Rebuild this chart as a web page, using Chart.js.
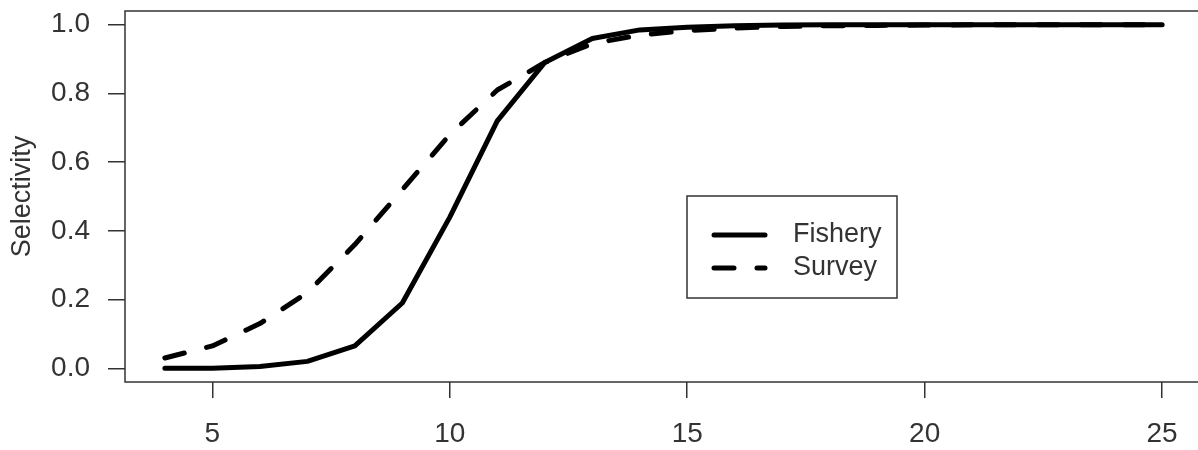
<!DOCTYPE html>
<html>
<head>
<meta charset="utf-8">
<script src="https://cdn.jsdelivr.net/npm/chart.js@4"></script>
<style>
  html, body { margin: 0; padding: 0; background: #fff; overflow: hidden; }
  canvas { display: block; }
</style>
</head>
<body>
<canvas id="selChart" width="1204" height="450"></canvas>
<script>

// lengths (x values)
var lengths = [4, 5, 6, 7, 8, 9, 10, 11, 12, 13, 14, 15, 16, 17, 18, 19, 20, 21, 22, 23, 24, 25];

// selectivity curves
var fishery = [0.0, 0.0, 0.005, 0.02, 0.065, 0.19, 0.44, 0.72, 0.89, 0.96, 0.985, 0.993, 0.997, 0.999, 1.0, 1.0, 1.0, 1.0, 1.0, 1.0, 1.0, 1.0];
var survey  = [0.03, 0.065, 0.13, 0.22, 0.36, 0.52, 0.68, 0.81, 0.89, 0.945, 0.97, 0.983, 0.99, 0.995, 0.997, 0.998, 0.999, 1.0, 1.0, 1.0, 1.0, 1.0];

var xTicks = [5, 10, 15, 20, 25];
var yTicks = [0, 0.2, 0.4, 0.6, 0.8, 1.0];

var ink = '#333333';
var fontFam = '"Liberation Sans", Arial, sans-serif';

function toPoints(xs, ys){
	var pts = [];
	for (var i = 0; i < xs.length; i++){ pts.push({x: xs[i], y: ys[i]}); }
	return pts;
}

// box round the plot area, like R's box()
var boxPlugin = {
	id: 'plotBox',
	afterDraw: function(chart){
		var a = chart.chartArea, ctx = chart.ctx;
		ctx.save();
		ctx.strokeStyle = ink;
		ctx.lineWidth = 1.5;
		ctx.strokeRect(a.left, a.top, a.right - a.left, a.bottom - a.top);
		ctx.restore();
	}
};

// legend box inside the plot
var legendPlugin = {
	id: 'boxLegend',
	afterDraw: function(chart){
		var ctx = chart.ctx;
		var bx = 687, by = 196, bw = 210, bh = 102;
		ctx.save();
		ctx.fillStyle = '#fff';
		ctx.fillRect(bx, by, bw, bh);
		ctx.strokeStyle = ink;
		ctx.lineWidth = 1.5;
		ctx.strokeRect(bx, by, bw, bh);
		var rows = [235, 268];
		chart.data.datasets.forEach(function(ds, i){
			var y = rows[i];
			ctx.beginPath();
			ctx.strokeStyle = ds.borderColor;
			ctx.lineWidth = ds.borderWidth;
			ctx.lineCap = 'round';
			ctx.setLineDash(ds.borderDash || []);
			ctx.moveTo(714, y);
			ctx.lineTo(765, y);
			ctx.stroke();
			ctx.setLineDash([]);
			ctx.fillStyle = ink;
			ctx.font = '27px ' + fontFam;
			ctx.textBaseline = 'middle';
			ctx.textAlign = 'left';
			ctx.fillText(ds.label, 793, y);
		});
		ctx.restore();
	}
};

var chart_settings = {
	type: 'line',
	data: {
		datasets: [{
			label: 'Fishery',
			data: toPoints(lengths, fishery),
			borderColor: '#000',
			borderWidth: 5,
			borderCapStyle: 'round',
			borderJoinStyle: 'round',
			pointRadius: 0,
			tension: 0,
			fill: false
		}, {
			label: 'Survey',
			data: toPoints(lengths, survey),
			borderColor: '#000',
			borderWidth: 5,
			borderDash: [20, 23],
			borderCapStyle: 'round',
			borderJoinStyle: 'round',
			pointRadius: 0,
			tension: 0,
			fill: false
		}]
	},
	options: {
		responsive: false,
		animation: false,
		layout: { padding: { top: 11, right: 2, left: 0, bottom: 0 } },
		plugins: { legend: { display: false }, tooltip: { enabled: false } },
		scales: {
			x: {
				type: 'linear',
				min: 3.16,
				max: 25.84,
				afterBuildTicks: function(scale){
					scale.ticks = xTicks.map(function(v){ return {value: v}; });
				},
				afterFit: function(scale){
					scale.height = 68;
					scale.paddingLeft = 0;
					scale.paddingRight = 0;
				},
				border: { display: false },
				grid: { drawOnChartArea: false, drawTicks: true, tickLength: 16, tickColor: ink, lineWidth: 1.5 },
				ticks: {
					color: ink,
					font: { family: fontFam, size: 28 },
					padding: 19,
					maxRotation: 0,
					autoSkip: false
				}
			},
			y: {
				type: 'linear',
				min: -0.04,
				max: 1.04,
				afterBuildTicks: function(scale){
					scale.ticks = yTicks.map(function(v){ return {value: v}; });
				},
				afterFit: function(scale){
					scale.width = 125;
					scale.paddingTop = 0;
					scale.paddingBottom = 0;
				},
				border: { display: false },
				grid: { drawOnChartArea: false, drawTicks: true, tickLength: 17, tickColor: ink, lineWidth: 1.5 },
				ticks: {
					color: ink,
					font: { family: fontFam, size: 28 },
					padding: 18,
					autoSkip: false,
					callback: function(v){ return Number(v).toFixed(1); }
				},
				title: {
					display: true,
					text: 'Selectivity',
					color: ink,
					font: { family: fontFam, size: 27 },
					padding: { top: 6, bottom: 0 }
				}
			}
		}
	},
	plugins: [boxPlugin, legendPlugin]
};

var chart_line = new Chart(document.getElementById('selChart'), chart_settings);

</script>
</body>
</html>
